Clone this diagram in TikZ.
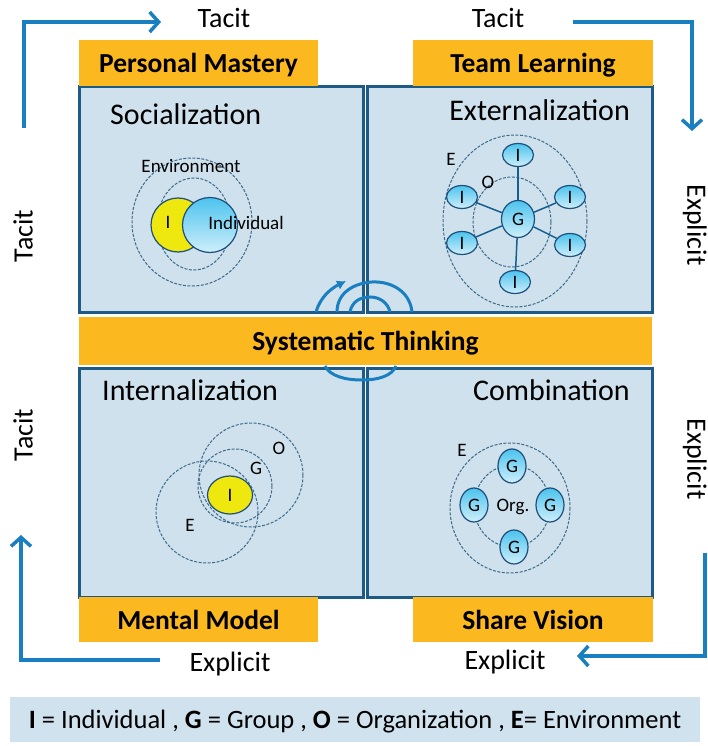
\documentclass[tikz,border=0pt]{standalone}
\usepackage{fontspec}
\setmainfont{Carlito}
\usetikzlibrary{arrows.meta, shapes.geometric}

\definecolor{quadfill}{HTML}{CFE1EC}
\definecolor{quadline}{HTML}{1D5A85}
\definecolor{bandorange}{HTML}{FBB91F}
\definecolor{flowblue}{HTML}{1A7FC1}
\definecolor{ringline}{HTML}{3D6A8C}
\definecolor{nodeline}{HTML}{1E4F7A}
\definecolor{memtop}{HTML}{4CC3EE}
\definecolor{membot}{HTML}{CFEFFB}
\definecolor{selfyellow}{HTML}{EEE80E}
\definecolor{legendfill}{HTML}{D0E2EE}

\tikzset{
  quad/.style={fill=quadfill, draw=quadline, line width=3pt},
  bandbox/.style={fill=bandorange, inner sep=0pt, text depth=0pt, font=\fontsize{27.5}{27.5}\selectfont\bfseries},
  side/.style={font=\fontsize{28}{28}\selectfont, text depth=0pt, inner sep=0pt},
  title/.style={font=\fontsize{30}{30}\selectfont, text depth=0pt, inner sep=0pt},
  flow/.style={flowblue, line width=3.5pt, -{Straight Barb[length=9pt,width=20pt]}},
  swirl/.style={flowblue, line width=3pt},
  ring/.style={draw=ringline, line width=1pt, dash pattern=on 3pt off 1.5pt},
  member/.style={ellipse, draw=nodeline, line width=1.2pt, top color=memtop, bottom color=membot, inner sep=0pt, font=\fontsize{19}{19}\selectfont},
  small/.style={font=\fontsize{19}{19}\selectfont, inner sep=0pt, text depth=0pt},
  link/.style={draw=flowblue!75!black, line width=1.5pt}
}

\begin{document}
\begin{tikzpicture}[x=1pt,y=-1pt]
  \useasboundingbox (0,0) rectangle (708,746);

  % the four quadrants
  \draw[quad] (79,87) rectangle (363,312);
  \draw[quad] (367,87) rectangle (652,312);
  \draw[quad] (79,368) rectangle (363,597);
  \draw[quad] (367,368) rectangle (652,597);

  % swirl round the middle
  \draw[swirl, -{Latex[length=9pt,width=10pt]}] (316,312) .. controls (320,298) and (330,289) .. (346,281);
  \draw[swirl] (337,312) .. controls (337,292) and (355,283) .. (372,282) .. controls (392,281) and (410,292) .. (412,312);
  \draw[swirl] (350,312) .. controls (352,301) and (361,297) .. (370,297) .. controls (380,297) and (388,303) .. (390,312);
  \draw[swirl] (325,366) .. controls (330,376) and (345,380) .. (362,380) .. controls (378,380) and (392,376) .. (396,366);

  % orange bands
  \node[bandbox, minimum width=239pt, minimum height=46pt] (mastery) at (198.5,63) {Personal Mastery};
  \node[bandbox, minimum width=240pt, minimum height=46pt] (teamlearn) at (533,63) {Team Learning};
  \node[bandbox, minimum width=573pt, minimum height=48pt] (systhink) at (365.5,341) {Systematic Thinking};
  \node[bandbox, minimum width=239pt, minimum height=45pt] (mentalmod) at (198.5,619.5) {Mental Model};
  \node[bandbox, minimum width=240pt, minimum height=45pt] (sharevis) at (533,619.5) {Share Vision};

  % quadrant titles
  \node[title, anchor=west] (socTitle) at (110,114) {Socialization};
  \node[title, anchor=east] (extTitle) at (630,110) {Externalization};
  \node[title, anchor=west] (intTitle) at (102,390) {Internalization};
  \node[title, anchor=east] (comTitle) at (630,390) {Combination};

  % side labels
  \node[side] (tacitTL) at (224,18) {Tacit};
  \node[side] (tacitTR) at (498,18) {Tacit};
  \node[side, rotate=90] (tacitL1) at (23,236) {Tacit};
  \node[side, rotate=90] (tacitL2) at (23,435) {Tacit};
  \node[side, rotate=-90] (explR1) at (697,225) {Explicit};
  \node[side, rotate=-90] (explR2) at (697,459) {Explicit};
  \node[side] (explBL) at (230,662) {Explicit};
  \node[side] (explBR) at (505,660) {Explicit};

  % flow round the outside
  \coordinate (socStart) at (24,128);
  \coordinate (socEnd) at (161,22);
  \coordinate (extStart) at (573,22);
  \coordinate (extEnd) at (692,131);
  \coordinate (comStart) at (705,553);
  \coordinate (comEnd) at (577,656);
  \coordinate (intStart) at (160,660);
  \coordinate (intEnd) at (21,535);
  \draw[flow] (socStart) |- (socEnd);
  \draw[flow] (extStart) -| (extEnd);
  \draw[flow] (comStart) |- (comEnd);
  \draw[flow] (intStart) -| (intEnd);

  % socialization
  \draw[ring] (192,222) ellipse [x radius=60, y radius=64];
  \draw[ring] (194,224) ellipse [x radius=37, y radius=46];
  \node[circle, draw=nodeline, line width=1.2pt, fill=selfyellow, minimum size=54pt] (soSelf) at (178,225) {};
  \node[circle, draw=nodeline, line width=1.2pt, top color=memtop, bottom color=membot, minimum size=55pt] (soOther) at (210,225) {};
  \node[small] (soI) at (168,222) {I};
  \node[small] (soInd) at (246,223) {Individual};
  \node[small] (soEnv) at (191,166) {Environment};

  % externalization
  \draw[ring] (515,221) ellipse [x radius=72, y radius=86];
  \draw[ring] (512,222) ellipse [x radius=39, y radius=45];
  \node[member, minimum width=33pt, minimum height=37pt] (exG) at (518,219) {G};
  \node[member, minimum width=31pt, minimum height=23pt] (exI1) at (518,155) {I};
  \node[member, minimum width=31pt, minimum height=23pt] (exI2) at (570,197) {I};
  \node[member, minimum width=31pt, minimum height=23pt] (exI3) at (570,245) {I};
  \node[member, minimum width=31pt, minimum height=23pt] (exI4) at (515,282) {I};
  \node[member, minimum width=31pt, minimum height=23pt] (exI5) at (462,243) {I};
  \node[member, minimum width=31pt, minimum height=23pt] (exI6) at (462,197) {I};
  \foreach \k in {1,...,6}
    \draw[link] (exG) -- (exI\k);
  \node[small] (exE) at (451,159) {E};
  \node[small] (exO) at (488,182) {O};

  % internalization
  \draw[ring] (207,512) circle [radius=51];
  \draw[ring] (251,475) circle [radius=52];
  \draw[ring] (235,486) circle [radius=37];
  \node[ellipse, draw=nodeline, line width=1.2pt, fill=selfyellow, minimum width=45pt, minimum height=38pt, inner sep=0pt, font=\fontsize{19}{19}\selectfont] (inSelf) at (230,495) {I};
  \node[small] (inO) at (279,448) {O};
  \node[small] (inG) at (256,468) {G};
  \node[small] (inE) at (190,525) {E};

  % combination
  \draw[ring] (510,508) ellipse [x radius=60, y radius=65];
  \draw[ring] (512,506) ellipse [x radius=38, y radius=41];
  \node[member, minimum width=28pt, minimum height=34pt] (coG1) at (512,466) {G};
  \node[member, minimum width=28pt, minimum height=34pt] (coG2) at (550,505) {G};
  \node[member, minimum width=28pt, minimum height=34pt] (coG3) at (514,547) {G};
  \node[member, minimum width=28pt, minimum height=34pt] (coG4) at (474,505) {G};
  \node[small] (coE) at (462,450) {E};
  \node[small] (coOrg) at (513,505) {Org.};

  % key
  \node[fill=legendfill, minimum width=690pt, minimum height=45pt, inner sep=0pt, text depth=0pt, font=\fontsize{26.5}{26.5}\selectfont] (key) at (355,719.5)
    {\textbf{I} = Individual , \textbf{G} = Group , \textbf{O} = Organization , \textbf{E}= Environment};
\end{tikzpicture}
\end{document}
